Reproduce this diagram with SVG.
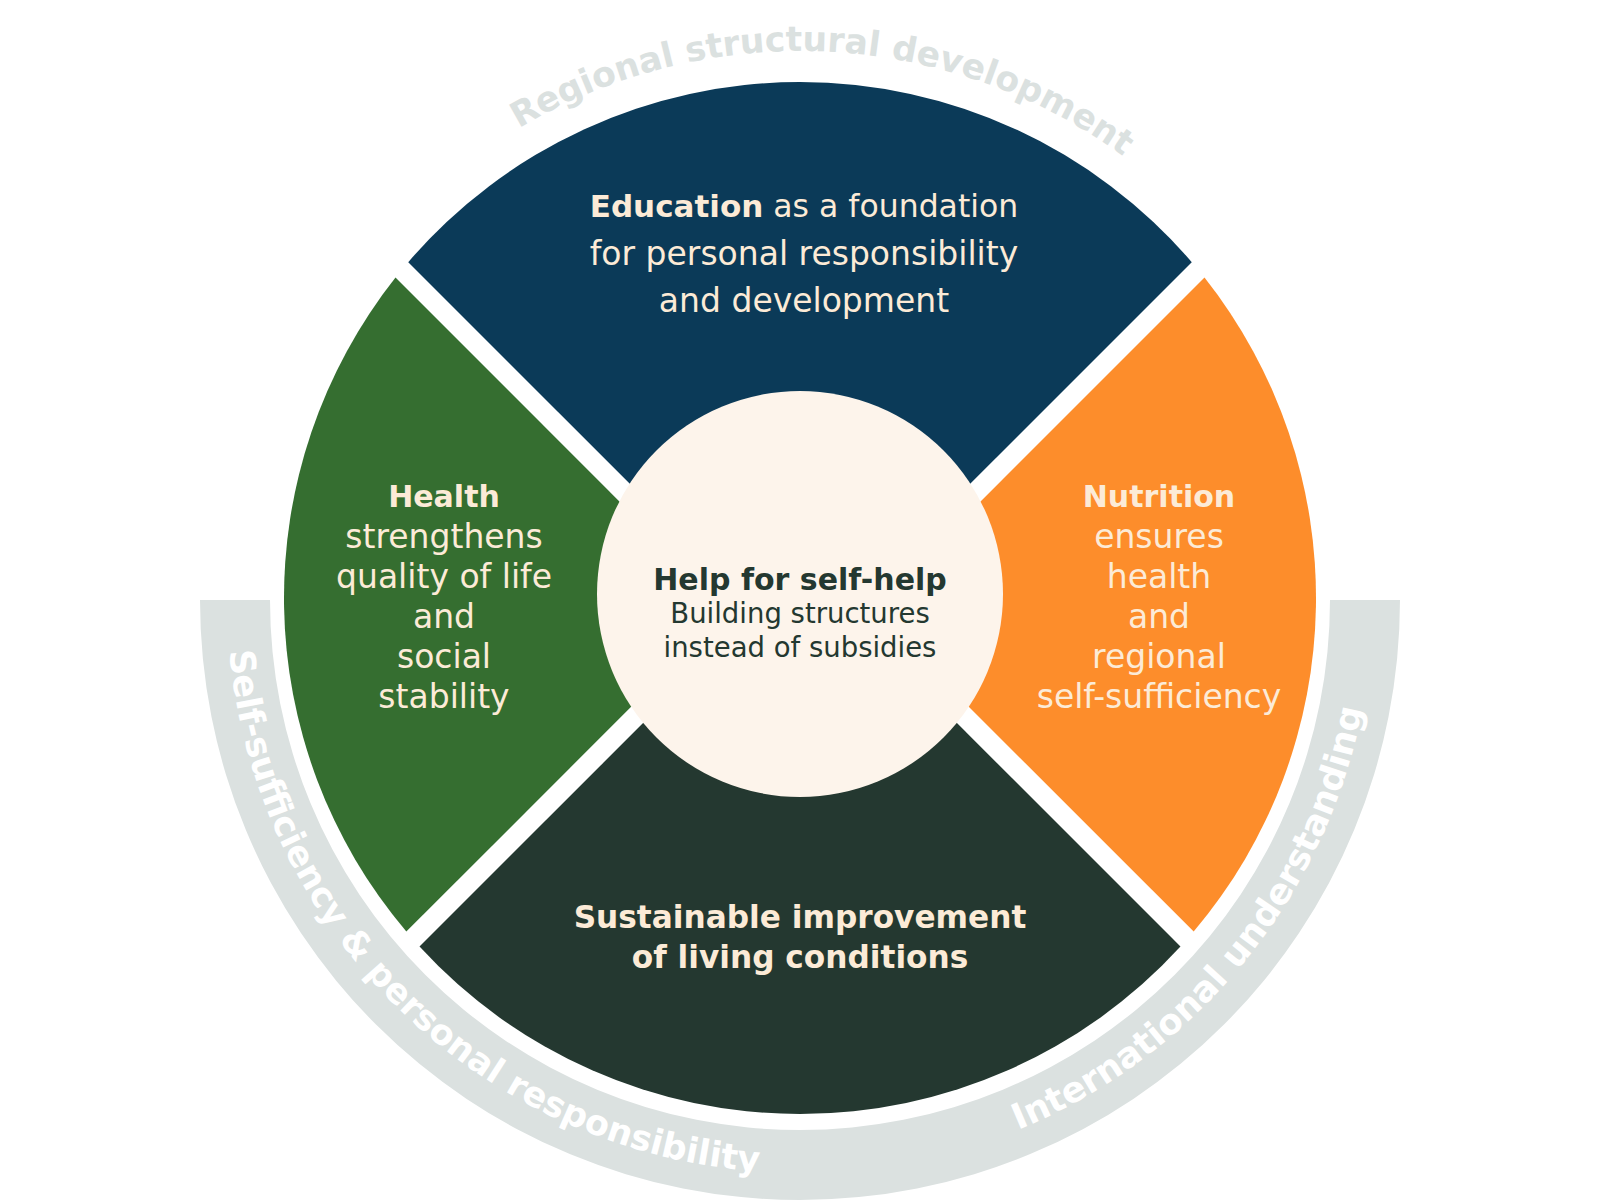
<svg xmlns="http://www.w3.org/2000/svg" width="1600" height="1200" viewBox="0 0 1600 1200">
<defs>
<style>
.t{font-family:"DejaVu Sans","Liberation Sans",sans-serif;text-anchor:middle;fill:#fcebd7}
.hd{font-size:30px;font-weight:bold}
.side{font-size:33px}
.ctr{fill:#243830}
.arc{font-family:"DejaVu Sans","Liberation Sans",sans-serif;font-weight:bold;text-anchor:middle}
</style>
<path id="arcTop" d="M 324.55 325.5 A 549 549 0 0 1 1275.45 325.5" fill="none"/>
<path id="arcLeft" d="M 227.09 610 A 573 573 0 0 0 1086.5 1096.2" fill="none"/>
<path id="arcRight" d="M 700.5 1164.3 A 573 573 0 0 0 1370.8 550.06" fill="none"/>
</defs>
<rect width="1600" height="1200" fill="#ffffff"/>

<g id="outer-band">
<path d="M 200 600 A 600 600 0 0 0 1400 600 L 1330 600 A 530 530 0 0 1 270 600 Z" fill="#dbe1e0"/>
<text class="arc" font-size="35" fill="#ffffff"><textPath href="#arcLeft" startOffset="445">Self-sufficiency &amp; personal responsibility</textPath></text>
<text class="arc" font-size="35.5" fill="#ffffff"><textPath href="#arcRight" startOffset="607">International understanding</textPath></text>
</g>

<g id="label-top">
<text class="arc" font-size="34.5" fill="#dbe1e0"><textPath href="#arcTop" startOffset="600">Regional structural development</textPath></text>
</g>

<g id="node-education">
<path d="M 408.25 262.15 A 516 516 0 0 1 1191.75 262.15 L 800 653.9 Z" fill="#0b3a58"/>
<text class="t" x="804" y="217" font-size="31.5"><tspan font-weight="bold" font-size="31">Education</tspan> as a foundation<tspan x="804" dy="48" font-size="33">for personal responsibility</tspan><tspan x="804" dy="47" font-size="33">and development</tspan></text>
</g>

<g id="node-health">
<path d="M 406.32 931.58 A 516 516 0 0 1 395.51 277.61 L 727.9 610 Z" fill="#356e30"/>
<text class="t side" x="444" y="507"><tspan class="hd">Health</tspan><tspan x="444" dy="41">strengthens</tspan><tspan x="444" dy="40">quality of life</tspan><tspan x="444" dy="40">and</tspan><tspan x="444" dy="40">social</tspan><tspan x="444" dy="40">stability</tspan></text>
</g>

<g id="node-nutrition">
<path d="M 1204.49 277.61 A 516 516 0 0 1 1193.68 931.58 L 872.1 610 Z" fill="#fd8d2b"/>
<text class="t side" x="1159" y="507"><tspan class="hd">Nutrition</tspan><tspan x="1159" dy="41">ensures</tspan><tspan x="1159" dy="40">health</tspan><tspan x="1159" dy="40">and</tspan><tspan x="1159" dy="40">regional</tspan><tspan x="1159" dy="40">self-sufficiency</tspan></text>
</g>

<g id="node-living">
<path d="M 1180.47 946.57 A 516 516 0 0 1 419.53 946.57 L 800 566.1 Z" fill="#243830"/>
<text class="t" x="800" y="928" font-size="31.2" font-weight="bold">Sustainable improvement<tspan x="800" dy="40">of living conditions</tspan></text>
</g>

<g id="node-center">
<circle cx="800" cy="594" r="203" fill="#fdf4eb"/>
<text class="t ctr" x="800" y="590" font-size="27.5"><tspan class="hd">Help for self-help</tspan><tspan x="800" dy="33">Building structures</tspan><tspan x="800" dy="34">instead of subsidies</tspan></text>
</g>

<g id="connectors"/>
</svg>
